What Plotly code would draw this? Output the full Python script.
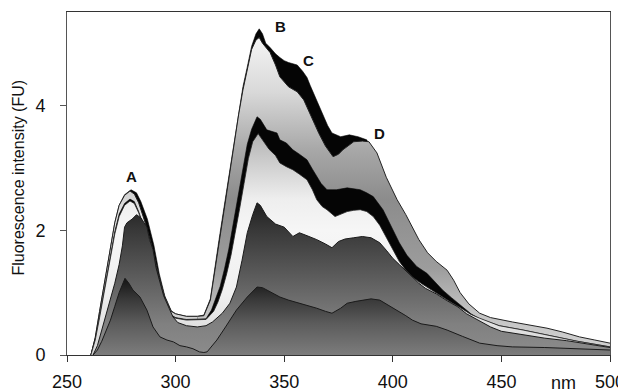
import plotly.graph_objects as go

# ---------------- data (wavelength nm, fluorescence FU) ----------------
# back-most dark band (top envelope, peaks B / C / D)
k1_nm = [261, 263, 265, 268, 270, 272, 274, 276.5, 279.5, 282, 284, 287, 290, 292.5, 295, 298,
         300, 305, 310, 313, 316, 318, 320, 322, 324.5, 326.5, 329, 331, 333, 335, 337, 338.5,
         340, 341.5, 343.5, 346, 348, 350, 352, 356, 358.5, 360.5, 362, 363.5, 366, 368, 370,
         372, 376, 380, 384, 388, 392, 397, 402, 409, 416, 425, 431, 440, 455, 471, 486, 500]
k1_fu = [0, 0.28, 0.7, 1.32, 1.69, 2.12, 2.4, 2.57, 2.65, 2.6, 2.46, 2.18, 1.76, 1.3, 0.95, 0.71,
         0.66, 0.62, 0.62, 0.64, 0.9, 1.4, 1.85, 2.3, 2.85, 3.35, 3.9, 4.3, 4.62, 4.95, 5.15, 5.23,
         5.15, 5.0, 4.93, 4.83, 4.77, 4.72, 4.69, 4.65, 4.55, 4.45, 4.32, 4.2, 3.98, 3.82, 3.68,
         3.56, 3.5, 3.53, 3.5, 3.45, 3.15, 2.8, 2.44, 2.0, 1.59, 1.3, 0.95, 0.62, 0.48, 0.38, 0.24, 0.14]

# first spectrum face
f1_nm = [261, 263, 265, 268, 270, 272, 274, 276.5, 279, 281, 283, 286, 289, 292, 295, 298,
         300, 305, 310, 313, 316, 318, 320, 322, 324.5, 326.5, 329, 331, 333, 335, 337, 338.5,
         340, 343.5, 346, 348, 352, 356, 359, 362, 366, 369, 372.5, 375, 377, 382, 386, 389,
         392.7, 397, 402, 406, 409, 412, 416, 420, 425, 428, 431, 435, 440, 445, 455, 463, 471,
         478, 486, 493, 500]
f1_fu = [0, 0.28, 0.7, 1.32, 1.69, 2.12, 2.4, 2.56, 2.63, 2.58, 2.44, 2.12, 1.76, 1.3, 0.93, 0.7,
         0.66, 0.62, 0.62, 0.63, 0.88, 1.35, 1.8, 2.25, 2.8, 3.3, 3.85, 4.25, 4.58, 4.9, 5.05, 5.09,
         5.0, 4.85, 4.65, 4.46, 4.3, 4.22, 4.09, 3.85, 3.55, 3.35, 3.18, 3.22, 3.29, 3.42, 3.43, 3.42,
         3.24, 2.85, 2.49, 2.25, 2.05, 1.85, 1.64, 1.5, 1.36, 1.2, 1.0, 0.82, 0.67, 0.6, 0.53, 0.48, 0.43,
         0.37, 0.29, 0.24, 0.19]

# second dark band
k2_nm = [261, 263, 265, 268, 270, 272, 274, 276.5, 279, 281, 283, 286, 289, 292, 295, 298,
         300, 305, 310, 314, 316.5, 318.5, 320.5, 322.5, 324.5, 326, 327.5, 329, 330.3, 331.7, 333, 335,
         337.5, 339, 342, 346.7, 348, 351, 354, 357, 360.5, 363, 365, 367, 369.7, 374, 379, 385,
         388, 391, 395.5, 400, 403, 406.5, 411, 415.7, 419, 423, 427, 431, 436, 440, 449, 460,
         472, 485, 500]
k2_fu = [0, 0.25, 0.62, 1.22, 1.58, 1.98, 2.26, 2.43, 2.5, 2.46, 2.3, 2.0, 1.7, 1.24, 0.88, 0.64,
         0.6, 0.57, 0.57, 0.58, 0.72, 0.9, 1.1, 1.38, 1.7, 2.0, 2.3, 2.62, 2.9, 3.18, 3.38, 3.62,
         3.82, 3.78, 3.61, 3.56, 3.45, 3.4, 3.29, 3.22, 3.13, 2.98, 2.86, 2.75, 2.65, 2.65, 2.68, 2.65,
         2.6, 2.54, 2.33, 2.0, 1.8, 1.6, 1.42, 1.31, 1.18, 1.04, 0.92, 0.8, 0.66, 0.58, 0.47, 0.4,
         0.31, 0.22, 0.13]

# second spectrum face
f2_nm = [261, 263, 265, 268, 270, 272, 274, 276.5, 279, 281, 283, 286, 289, 292, 295, 298,
         300, 305, 310, 314, 317.5, 319.5, 321.5, 323.5, 325.5, 327.5, 329.5, 331.5, 333.5, 335.5, 338, 340, 343,
         346, 348, 351, 354, 357, 360.5, 363, 365, 367.5, 369.7, 373.4, 376, 379, 382, 385, 388,
         391, 394, 397, 400, 403, 406, 409, 413, 417, 422, 427, 431, 436, 440, 449, 460, 472,
         485, 500]
f2_fu = [0, 0.24, 0.6, 1.18, 1.54, 1.94, 2.22, 2.4, 2.47, 2.43, 2.28, 1.98, 1.68, 1.22, 0.87, 0.63,
         0.59, 0.56, 0.56, 0.57, 0.7, 0.85, 1.05, 1.3, 1.6, 1.95, 2.35, 2.75, 3.15, 3.42, 3.55, 3.45, 3.3,
         3.2, 3.08, 3.02, 2.97, 2.9, 2.81, 2.65, 2.49, 2.38, 2.33, 2.22, 2.26, 2.3, 2.32, 2.33, 2.3,
         2.22, 2.08, 1.88, 1.7, 1.5, 1.36, 1.25, 1.15, 1.06, 0.95, 0.84, 0.76, 0.65, 0.59, 0.47, 0.4, 0.31,
         0.22, 0.13]

# third spectrum (dark)
f3_nm = [262, 264, 266, 268, 270, 272, 274, 275.5, 276.5, 277.6, 280, 282, 284, 286.8, 288, 289.6,
         291, 292.8, 294.5, 296, 298.8, 301, 305, 310, 314, 317, 321.5, 325, 328, 330.6, 333, 335.5,
         337.5, 339, 342, 346, 348, 350, 354, 357, 360, 365, 369, 372, 375, 378, 382, 386, 390, 394,
         397, 400, 403, 407, 412, 415, 420, 425, 430, 434, 440, 445, 450, 460, 470, 480, 490, 500]
f3_fu = [0, 0.15, 0.4, 0.65, 0.9, 1.15, 1.45, 1.75, 2.05, 2.12, 2.18, 2.25, 2.2, 2.05, 1.85, 1.69,
         1.4, 1.15, 0.95, 0.83, 0.61, 0.52, 0.47, 0.45, 0.47, 0.53, 0.67, 0.83, 1.09, 1.52, 1.96, 2.25,
         2.44, 2.4, 2.22, 2.1, 2.08, 2.05, 1.9, 1.96, 1.92, 1.85, 1.78, 1.72, 1.82, 1.86, 1.88, 1.9, 1.88, 1.8,
         1.68, 1.55, 1.45, 1.32, 1.15, 1.07, 0.98, 0.87, 0.77, 0.66, 0.55, 0.45, 0.38, 0.32, 0.27, 0.23, 0.18, 0.12]

# fourth spectrum (darkest, lowest)
f4_nm = [262, 264, 266, 268, 270, 272, 274, 276.7, 278.5, 280.4, 283.6, 286.8, 289.6, 292.8, 296, 299,
         302, 305, 308, 311, 313, 314.5, 317, 319, 323, 328, 333, 337.5, 340, 342, 345, 348, 352, 357,
         361, 365, 369, 372, 376, 379, 383, 386, 390, 394, 398, 402, 406, 409, 413, 420, 425, 432, 440,
         448, 455, 470, 485, 500]
f4_fu = [0, 0.08, 0.22, 0.4, 0.56, 0.78, 1.0, 1.23, 1.15, 1.04, 0.93, 0.72, 0.45, 0.29, 0.24, 0.21,
         0.15, 0.13, 0.1, 0.05, 0.04, 0.05, 0.15, 0.24, 0.45, 0.72, 0.93, 1.09, 1.08, 1.04, 0.98, 0.93, 0.88, 0.83,
         0.8, 0.75, 0.7, 0.67, 0.75, 0.83, 0.86, 0.88, 0.9, 0.88, 0.8, 0.72, 0.63, 0.56, 0.5, 0.46, 0.4, 0.3, 0.19,
         0.15, 0.13, 0.12, 0.1, 0.08]

peak_labels = ["A", "B", "C", "D"]
peak_nm = [279.5, 348.5, 361, 394]
peak_fu = [2.86, 5.26, 4.73, 3.55]

x_ticks = [250, 300, 350, 400, 450, 500]
y_ticks = [0, 2, 4]

# ---------------- styling ----------------
FONT = "Liberation Sans, Arial, sans-serif"
Y_MAX = 5.5
SPLIT_NM = 310  # the first face is shaded differently under peak A and under peaks B-D


def grad(stops):
    return dict(type="vertical", start=0, stop=Y_MAX,
                colorscale=[[y / Y_MAX, c] for y, c in stops])


f1a_grad = grad([(0, "#cfcfcf"), (0.7, "#d4d4d4"), (1.5, "#ececec"), (2.2, "#e6e6e6"),
                 (2.7, "#cccccc"), (5.5, "#cccccc")])
f1_grad = grad([(0, "#d4d4d4"), (0.7, "#c2c2c2"), (1.4, "#9c9c9c"), (2.5, "#8c8c8c"),
                (3.3, "#a8a8a8"), (4.2, "#d8d8d8"), (5.2, "#f8f8f8"), (5.5, "#fcfcfc")])
f2_grad = grad([(0, "#d6d6d6"), (0.5, "#e2e2e2"), (1.0, "#f0f0f0"), (2.0, "#f6f6f6"),
                (2.5, "#eeeeee"), (3.0, "#d2d2d2"), (3.6, "#b0b0b0"), (5.5, "#a0a0a0")])
f3_grad = grad([(0, "#8c8c8c"), (0.5, "#808080"), (1.0, "#686868"), (1.5, "#505050"),
                (2.0, "#383838"), (2.5, "#1c1c1c"), (5.5, "#111111")])
f4_grad = grad([(0, "#7c7c7c"), (0.5, "#5c5c5c"), (0.9, "#383838"), (1.25, "#121212"),
                (5.5, "#0a0a0a")])


def part(xs, ys, lo, hi):
    pts = [(x, y) for x, y in zip(xs, ys) if lo <= x <= hi]
    return [p[0] for p in pts], [p[1] for p in pts]


f1a_nm, f1a_fu = part(f1_nm, f1_fu, 0, SPLIT_NM)
f1b_nm, f1b_fu = part(f1_nm, f1_fu, SPLIT_NM, 1000)

layers = [
    (k1_nm, k1_fu, None, "#050505", 0.6),
    (f1a_nm, f1a_fu, f1a_grad, "#222222", 1.0),
    (f1b_nm, f1b_fu, f1_grad, "#222222", 1.0),
    (k2_nm, k2_fu, None, "#050505", 0.6),
    (f2_nm, f2_fu, f2_grad, "#222222", 0.8),
    (f3_nm, f3_fu, f3_grad, "#1a1a1a", 1.0),
    (f4_nm, f4_fu, f4_grad, "#1a1a1a", 1.0),
]

fig = go.Figure()
for xs, ys, g, lc, lw in layers:
    kw = dict(x=xs, y=ys, mode="lines", fill="tozeroy",
              line=dict(color=lc, width=lw), hoverinfo="skip", showlegend=False)
    if g is None:
        kw["fillcolor"] = "#050505"
    else:
        kw["fillgradient"] = g
    fig.add_trace(go.Scatter(**kw))

for lab, xv, yv in zip(peak_labels, peak_nm, peak_fu):
    fig.add_annotation(x=xv, y=yv, text="<b>%s</b>" % lab, showarrow=False,
                       font=dict(family=FONT, size=15, color="#111111"))

fig.add_annotation(x=478.5, y=-0.0816, xref="x", yref="paper", text="nm", showarrow=False,
                   xanchor="center", yanchor="middle",
                   font=dict(family=FONT, size=18, color="#111111"))
fig.add_annotation(x=-0.0902, y=0.5175, xref="paper", yref="paper",
                   text="Fluorescence intensity (FU)", textangle=-90, showarrow=False,
                   xanchor="center", yanchor="middle",
                   font=dict(family=FONT, size=16, color="#111111"))

# the page body adds an 8 px offset, so the figure is 8 px smaller than the window
fig.update_layout(
    width=618, height=384,
    margin=dict(l=59, r=16, t=4, b=37),
    paper_bgcolor="white", plot_bgcolor="white",
    font=dict(family=FONT, size=18, color="#111111"),
)
fig.update_xaxes(range=[250, 500], tickvals=x_ticks, ticks="outside", ticklen=6,
                 tickcolor="#333333", showgrid=False, zeroline=False, automargin=False,
                 showline=True, linecolor="#333333", linewidth=1, mirror=True,
                 ticklabelstandoff=4)
fig.update_yaxes(range=[0, Y_MAX], tickvals=y_ticks, ticks="outside", ticklen=6,
                 tickcolor="#555555", showgrid=False, zeroline=False, automargin=False,
                 showline=True, linecolor="#555555", linewidth=1, mirror=True,
                 ticklabelstandoff=11)

fig.write_html("out.html")
